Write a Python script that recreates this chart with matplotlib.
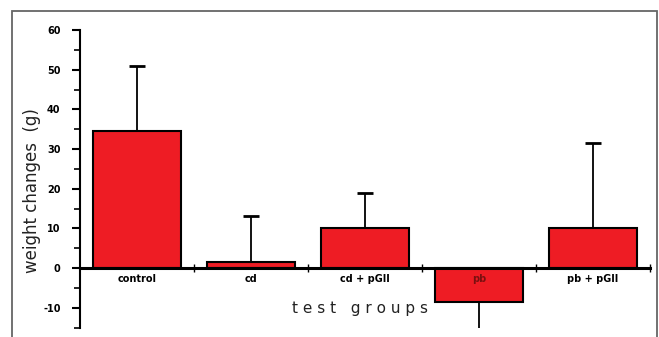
import matplotlib.pyplot as plt
import numpy as np
from matplotlib.patches import Rectangle

plt.rcParams["axes.unicode_minus"] = False

# Dados
groups = ["control", "cd", "cd + pGII", "pb", "pb + pGII"]
means = [34.5, 1.5, 10.0, -8.5, 10.0]
errors = [16.5, 11.5, 9.0, 7.5, 21.5]
y_ticks = [-10, 0, 10, 20, 30, 40, 50, 60]

x = np.arange(len(groups))
# barra de erro só para o lado do valor (para cima se positivo)
ends = [m + e if m >= 0 else m - e for m, e in zip(means, errors)]

fig = plt.figure(figsize=(6.59, 3.37), dpi=100)
ax = fig.add_axes([80 / 659, (337 - 327.5) / 337, 570 / 659, 297.5 / 337])

ax.bar(x, means, width=0.78, color="#ee1c24", edgecolor="black",
       linewidth=1.5, zorder=2)
ax.vlines(x, means, ends, color="black", linewidth=1.3, zorder=3)
ax.hlines(ends, x - 0.07, x + 0.07, color="black", linewidth=2.0, zorder=3)

ax.set_xlim(-0.5, 4.5)
ax.set_ylim(-15, 60)

# eixos
for side in ["top", "right"]:
    ax.spines[side].set_visible(False)
ax.spines["bottom"].set_position(("data", 0))
ax.spines["bottom"].set_linewidth(2.2)
ax.spines["bottom"].set_zorder(4)
ax.spines["left"].set_linewidth(1.5)

ax.set_yticks(y_ticks)
ax.set_yticks(np.arange(-15, 61, 5), minor=True)
ax.tick_params(axis="y", which="major", direction="out", length=6, width=1.5,
               labelsize=7, pad=8)
ax.tick_params(axis="y", which="minor", direction="out", length=4, width=1.2)
for lab in ax.get_yticklabels():
    lab.set_fontweight("bold")

# ticks nas divisões entre grupos, rótulos no centro
ax.set_xticks(np.arange(0.5, 4.6, 1.0))
ax.tick_params(axis="x", which="major", direction="inout", length=6,
               width=1.0, labelbottom=False)
for i, g in enumerate(groups):
    ax.text(x[i], -1.6, g, ha="center", va="top", fontsize=7,
            fontweight="bold", color="#7a1010" if g == "pb" else "black",
            zorder=5)

ax.text(1.96, -10.2, "t e s t   g r o u p s", ha="center", va="center",
        fontsize=11, color="#222222")
ax.set_ylabel("weight changes  (g)", fontsize=12, color="#222222")
ax.yaxis.set_label_coords(-(80 - 41) / 570, 0.46)

# moldura externa
fig.patches.append(Rectangle((12 / 659, -0.1), 1 - 14 / 659, 1.1 - 11 / 337,
                             transform=fig.transFigure, fill=False,
                             edgecolor="#666666", linewidth=1.3))

fig.savefig("out.png", dpi=100)
